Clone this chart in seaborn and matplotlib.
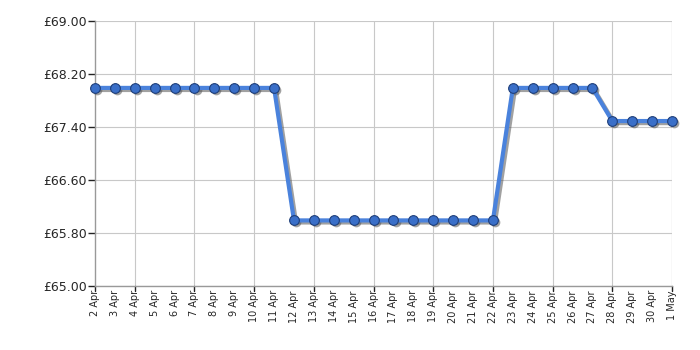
import matplotlib
matplotlib.use("Agg")
import matplotlib.pyplot as plt
import matplotlib.transforms as mtrans
import seaborn as sns
import pandas as pd
import numpy as np

dates = ["2 Apr", "3 Apr", "4 Apr", "5 Apr", "6 Apr", "7 Apr", "8 Apr", "9 Apr", "10 Apr", "11 Apr",
         "12 Apr", "13 Apr", "14 Apr", "15 Apr", "16 Apr", "17 Apr", "18 Apr", "19 Apr", "20 Apr",
         "21 Apr", "22 Apr", "23 Apr", "24 Apr", "25 Apr", "26 Apr", "27 Apr", "28 Apr", "29 Apr",
         "30 Apr", "1 May"]
prices = [67.99, 67.99, 67.99, 67.99, 67.99, 67.99, 67.99, 67.99, 67.99, 67.99,
          65.99, 65.99, 65.99, 65.99, 65.99, 65.99, 65.99, 65.99, 65.99, 65.99, 65.99,
          67.99, 67.99, 67.99, 67.99, 67.99, 67.49, 67.49, 67.49, 67.49]
y_ticks = [65.00, 65.80, 66.60, 67.40, 68.20, 69.00]

df = pd.DataFrame({"idx": np.arange(len(dates)), "price": prices})

sns.set_style("white")
plt.rcParams["font.family"] = ["DejaVu Sans"]

fig = plt.figure(figsize=(7, 3.5), dpi=100)
ax = fig.add_axes([95/700, 1-286/350, (672-95)/700, (286-21)/350])

# shadow layer
shadow_tr = ax.transData + mtrans.ScaledTranslation(1.5/72, -1.5/72, fig.dpi_scale_trans)
sns.lineplot(data=df, x="idx", y="price", ax=ax, color="#555555", linewidth=3, alpha=0.55,
             marker="o", markersize=7, markeredgewidth=0, clip_on=False, zorder=4,
             transform=shadow_tr)

line_color = "#4a82dc"
sns.lineplot(data=df, x="idx", y="price", ax=ax, color=line_color, linewidth=3,
             marker="o", markersize=7, markerfacecolor="#3a6fc8", markeredgecolor="#1f3f7a",
             markeredgewidth=0.8, clip_on=False, zorder=5)

ax.set_xlim(0, len(dates) - 1)
ax.set_ylim(65.0, 69.0)
ax.set_yticks(y_ticks)
ax.set_yticklabels([f"£{v:.2f}" for v in y_ticks], fontsize=9)
ax.set_xticks(np.arange(len(dates)))
ax.set_xticklabels(dates, rotation=90, fontsize=7)

# vertical grid every 3 days starting at 4 Apr
for i in range(2, len(dates), 3):
    ax.axvline(i, color="#c8c8c8", linewidth=0.8, zorder=0)
for v in y_ticks:
    ax.axhline(v, color="#c8c8c8", linewidth=0.8, zorder=0)

ax.tick_params(axis="y", length=5, width=1, color="#222222", pad=1, direction="out", left=True)
ax.tick_params(axis="x", length=0, pad=3)
for i in list(range(2, len(dates), 3)) + [0]:
    ax.plot([i, i], [0, -0.02], transform=ax.get_xaxis_transform(), color="#222222",
            linewidth=1, clip_on=False)

for s in ["left", "bottom"]:
    ax.spines[s].set_color("#999999")
    ax.spines[s].set_linewidth(1)
for s in ["top", "right"]:
    ax.spines[s].set_visible(False)
ax.axvline(len(dates) - 1, color="#c8c8c8", linewidth=0.8, zorder=0)

ax.set_xlabel("")
ax.set_ylabel("")
fig.savefig("out.png", dpi=100)
